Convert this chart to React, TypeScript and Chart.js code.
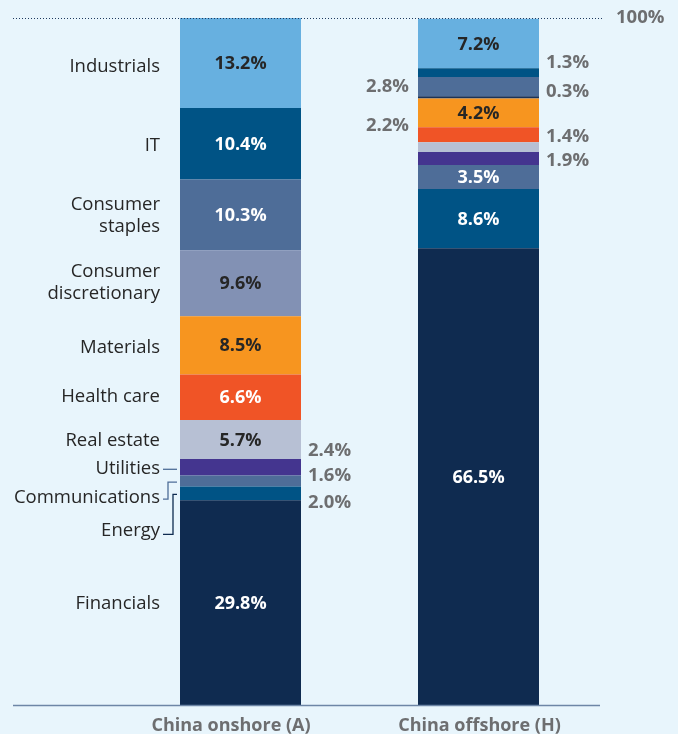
import React, { useEffect, useRef } from "react";
import { Chart, registerables } from "chart.js";

Chart.register(...registerables);

const categories = ["China onshore (A)", "China offshore (H)"];
const sectors = [
  "Financials",
  "Energy",
  "Communications",
  "Utilities",
  "Real estate",
  "Health care",
  "Materials",
  "Consumer discretionary",
  "Consumer staples",
  "IT",
  "Industrials",
];
const sectorLabels = [
  ["Financials"],
  ["Energy"],
  ["Communications"],
  ["Utilities"],
  ["Real estate"],
  ["Health care"],
  ["Materials"],
  ["Consumer", "discretionary"],
  ["Consumer", "staples"],
  ["IT"],
  ["Industrials"],
];
const onshoreValues = [29.8, 2.0, 1.6, 2.4, 5.7, 6.6, 8.5, 9.6, 10.3, 10.4, 13.2];
const offshoreValues = [66.5, 8.6, 3.5, 1.9, 1.4, 2.2, 4.2, 0.3, 2.8, 1.3, 7.2];
const topLabel = "100%";

// styling
const sectorColors = [
  "#0f2b50",
  "#005385",
  "#4e6d98",
  "#44358f",
  "#b7c0d4",
  "#f05426",
  "#f7951f",
  "#8291b4",
  "#4e6d98",
  "#005385",
  "#67b0e0",
];
const offshoreColorOverride: Record<number, string> = { 7: "#1b3358" };
const darkTextSectors = [4, 6, 7, 10];

// outside label layout: [barIndex, sectorIndex] -> side and pixel nudge
const outsideLayout: Record<string, { side: "left" | "right"; dy: number }> = {
  "0-1": { side: "right", dy: 9 },
  "0-2": { side: "right", dy: -5 },
  "0-3": { side: "right", dy: -17 },
  "1-3": { side: "right", dy: 2.5 },
  "1-4": { side: "right", dy: -10 },
  "1-5": { side: "left", dy: -9 },
  "1-7": { side: "right", dy: -6 },
  "1-8": { side: "left", dy: 0 },
  "1-9": { side: "right", dy: -10 },
};
const categoryLabelDy: Record<number, number> = { 2: 16, 1: 36, 10: 3, 9: 1, 6: 1, 7: -1, 5: -1 };
const leaderSectors = [1, 2, 3];
const leaderColors: Record<number, string> = { 3: "#4e6d98", 2: "#4e6d98", 1: "#0f2b50" };
const xLabelDx = [-9.5, 1];

const FONT = "'Open Sans', 'Noto Sans', sans-serif";
const GREY = "#6d6e70";
const DARK = "#262626";

const overlayPlugin = {
  id: "overlay",
  afterDatasetsDraw(chart: any) {
    const ctx = chart.ctx;
    const area = chart.chartArea;
    ctx.save();

    // baseline
    ctx.strokeStyle = "#6d86a6";
    ctx.lineWidth = 1.5;
    ctx.beginPath();
    ctx.moveTo(13, area.bottom + 0.5);
    ctx.lineTo(600, area.bottom + 0.5);
    ctx.stroke();

    // dotted 100% line
    ctx.strokeStyle = "#1f3a5f";
    ctx.lineWidth = 1;
    ctx.setLineDash([1, 2]);
    ctx.beginPath();
    ctx.moveTo(13, area.top + 0.5);
    ctx.lineTo(604, area.top + 0.5);
    ctx.stroke();
    ctx.setLineDash([]);

    ctx.fillStyle = GREY;
    ctx.font = `bold 18.5px ${FONT}`;
    ctx.textAlign = "left";
    ctx.textBaseline = "middle";
    ctx.fillText(topLabel, 616, area.top);

    // x category labels
    ctx.font = `bold 18px ${FONT}`;
    ctx.textAlign = "center";
    categories.forEach((c, i) => {
      const el = chart.getDatasetMeta(0).data[i];
      ctx.fillText(c, el.x + xLabelDx[i], area.bottom + 21);
    });

    // value labels
    for (let b = 0; b < categories.length; b++) {
      sectors.forEach((s, si) => {
        const el = chart.getDatasetMeta(si).data[b];
        const v = chart.data.datasets[si].data[b];
        const cy = (el.y + el.base) / 2;
        const txt = v.toFixed(1) + "%";
        const lay = outsideLayout[`${b}-${si}`];
        if (lay) {
          ctx.font = `bold 18.5px ${FONT}`;
          ctx.fillStyle = GREY;
          if (lay.side === "right") {
            ctx.textAlign = "left";
            ctx.fillText(txt, el.x + el.width / 2 + 7, cy + lay.dy);
          } else {
            ctx.textAlign = "right";
            ctx.fillText(txt, el.x - el.width / 2 - 9, cy + lay.dy);
          }
        } else {
          ctx.font = `bold 18px ${FONT}`;
          ctx.fillStyle = darkTextSectors.includes(si) ? DARK : "#ffffff";
          ctx.textAlign = "center";
          ctx.fillText(txt, el.x, cy + 1);
        }
      });
    }

    // sector labels on the left of bar 0
    ctx.font = `18.5px ${FONT}`;
    ctx.fillStyle = DARK;
    ctx.textAlign = "right";
    sectors.forEach((s, si) => {
      const el = chart.getDatasetMeta(si).data[0];
      const cy = (el.y + el.base) / 2;
      const dy = categoryLabelDy[si] || 0;
      const lines = sectorLabels[si];
      const lh = 22;
      const rightX = el.x - el.width / 2 - 20;
      lines.forEach((ln, li) => {
        const y = cy + dy + (li - (lines.length - 1) / 2) * lh + 1;
        ctx.fillText(ln, rightX, y);
      });
      if (leaderSectors.includes(si)) {
        const barLeft = el.x - el.width / 2;
        ctx.strokeStyle = leaderColors[si];
        ctx.lineWidth = 1.3;
        ctx.beginPath();
        if (dy === 0) {
          ctx.moveTo(rightX + 3, cy + 2);
          ctx.lineTo(barLeft - 3, cy + 2);
        } else {
          const startY = cy + dy + (si === 1 ? 5 : 2);
          const elbowX = si === 1 ? rightX + 13 : rightX + 8;
          ctx.moveTo(rightX + 3, startY);
          ctx.lineTo(elbowX, startY);
          ctx.lineTo(elbowX, cy + 1);
          ctx.lineTo(barLeft - 3, cy + 1);
        }
        ctx.stroke();
      }
    });

    ctx.restore();
  },
};

export default function App() {
  const ref = useRef<HTMLCanvasElement | null>(null);
  useEffect(() => {
    if (!ref.current) return;
    const chart = new Chart(ref.current, {
      type: "bar",
      data: {
        labels: categories,
        datasets: sectors.map((s, si) => ({
          label: s,
          data: [onshoreValues[si], offshoreValues[si]],
          backgroundColor: [sectorColors[si], offshoreColorOverride[si] || sectorColors[si]],
          borderWidth: 0,
          categoryPercentage: 1,
          barPercentage: 121 / 238,
        })),
      },
      options: {
        animation: false,
        responsive: false,
        devicePixelRatio: 1,
        layout: { padding: { left: 121.5, right: 80.5, top: 18, bottom: 29 } },
        scales: {
          x: { stacked: true, display: false },
          y: { stacked: true, display: false, min: 0, max: 100 },
        },
        plugins: { legend: { display: false }, tooltip: { enabled: false } },
      },
      plugins: [overlayPlugin],
    });
    return () => chart.destroy();
  }, []);
  return (
    <div
      style={{
        position: "absolute",
        left: 0,
        top: 0,
        width: 678,
        height: 734,
        background: "#e8f5fc",
      }}
    >
      <canvas ref={ref} width={678} height={734} style={{ display: "block" }} />
    </div>
  );
}
